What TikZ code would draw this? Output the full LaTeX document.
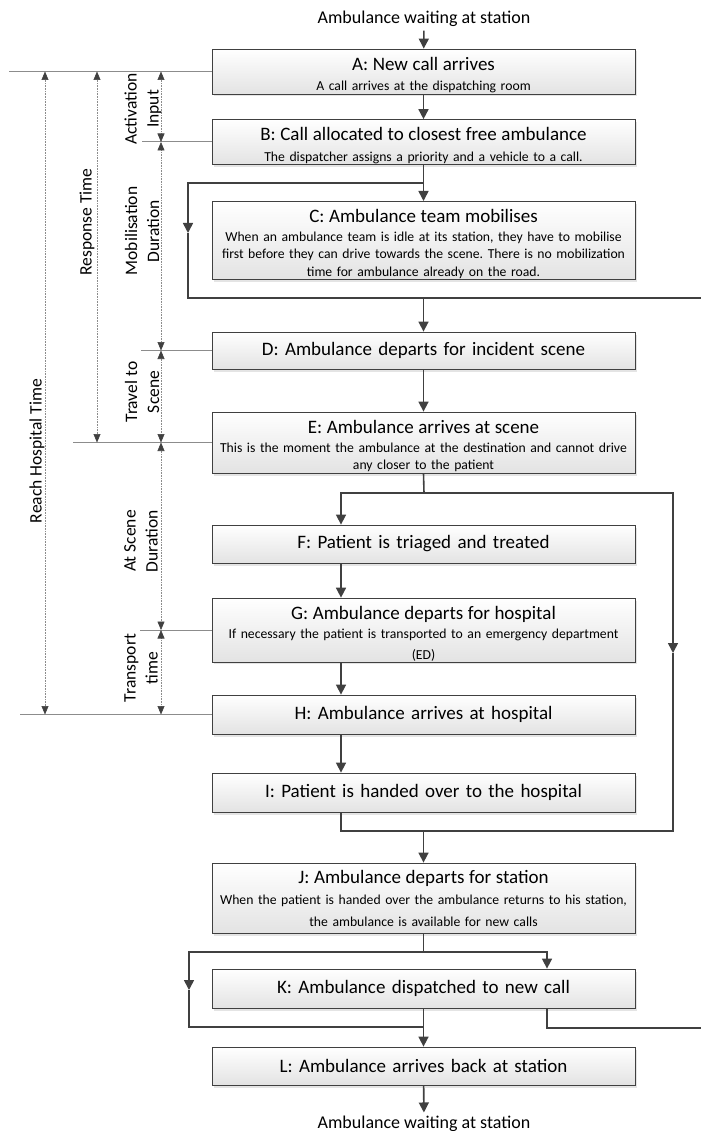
\documentclass[tikz,border=0pt]{standalone}
\usepackage{fontspec}
\setmainfont{Carlito}
\usepackage{tikz}
\usetikzlibrary{arrows.meta,shadows}

\definecolor{darkline}{HTML}{404040}
\definecolor{dimgrey}{HTML}{8C8C8C}
\newcommand{\boxtitle}{\fontsize{19}{22}\selectfont}
\newcommand{\boxdesc}{\fontsize{13.7}{20.5}\selectfont}
\newcommand{\waitfont}{\fontsize{18}{21}\selectfont}
\newcommand{\labelfont}{\fontsize{17.5}{22}\selectfont}
\newcommand{\titlegap}{\rule{0pt}{20pt}}
\frenchspacing

\begin{document}
\begin{tikzpicture}[x=1pt, y=-1pt, line width=.8pt,
    stepbox/.style={draw=darkline, line width=.8pt, top color=white, bottom color=gray!22,
        minimum width=423pt, text width=421pt, align=center, inner xsep=1pt, inner ysep=1pt,
        font=\boxdesc,
        drop shadow={shadow xshift=2pt, shadow yshift=-2.5pt, fill=gray!35, opacity=.6}},
    flow/.style={draw=darkline, line width=1.6pt, -{Triangle[width=10pt,length=10pt]}},
    plainline/.style={draw=darkline, line width=1.6pt},
    dimline/.style={draw=dimgrey, line width=.6pt, densely dotted,
        {Triangle[width=7pt,length=8.5pt,color=darkline,fill=darkline]}-{Triangle[width=7pt,length=8.5pt,color=darkline,fill=darkline]}},
    extline/.style={draw=dimgrey, line width=1pt},
    dimlabel/.style={rotate=90, align=center, font=\labelfont, inner sep=0pt}]
    \useasboundingbox (0,0) rectangle (701,1131);

    % start and end of the cycle
    \node[font=\waitfont] (start) at (424,19) {Ambulance waiting at station};
    \node[font=\waitfont] (finish) at (424,1124) {Ambulance waiting at station};

    % the steps
    \node[stepbox, minimum height=45pt] (A) at (423.5,71.5) {{\titlegap\boxtitle A: New call arrives}\\[-1pt]{A call arrives at the dispatching room}};
    \node[stepbox, minimum height=44pt] (B) at (423.5,142) {{\titlegap\boxtitle B: Call allocated to closest free ambulance}\\{The dispatcher assigns a priority and a vehicle to a call.}};
    \node[stepbox, minimum height=75pt, font={\fontsize{13.7}{17.5}\selectfont}] (C) at (423.5,240.5) {{\titlegap\boxtitle C: Ambulance team mobilises}\\[1.5pt]When an ambulance team is idle at its station, they have to mobilise\\first before they can drive towards the scene. There is no mobilization\\time for ambulance already on the road.};
    \node[stepbox, minimum height=37pt, font=\boxtitle] (D) at (423.5,350.5) {D: Ambulance departs for incident scene};
    \node[stepbox, minimum height=61pt, font={\fontsize{13.7}{16.5}\selectfont}] (E) at (423.5,442.5) {{\titlegap\boxtitle E: Ambulance arrives at scene}\\[3pt]This is the moment the ambulance at the destination and cannot drive\\any closer to the patient};
    \node[stepbox, minimum height=58pt] (G) at (423.5,630) {{\titlegap\boxtitle G: Ambulance departs for hospital}\\[-1pt]If necessary the patient is transported to an emergency department\\(ED)};
    \node[stepbox, minimum height=38pt, font=\boxtitle] (F) at (423.5,544) {F: Patient is triaged and treated};
    \node[stepbox, minimum height=39pt, font=\boxtitle] (H) at (423.5,714.5) {H: Ambulance arrives at hospital};
    \node[stepbox, minimum height=39pt, font=\boxtitle] (I) at (423.5,792.5) {I: Patient is handed over to the hospital};
    \node[stepbox, minimum height=70pt, font={\fontsize{13.7}{21.5}\selectfont}] (J) at (423.5,898) {{\boxtitle J: Ambulance departs for station}\\When the patient is handed over the ambulance returns to his station,\\the ambulance is available for new calls};
    \node[stepbox, minimum height=39pt, font=\boxtitle] (K) at (423.5,988.5) {K: Ambulance dispatched to new call};
    \node[stepbox, minimum height=38pt, font=\boxtitle] (L) at (423.5,1066) {L: Ambulance arrives back at station};

    % helper points of the loops
    \coordinate (sx) at (341,0);
    \coordinate (kx) at (547,0);
    \coordinate (cl) at (188,183);
    \coordinate (cm) at (188,233);
    \coordinate (cb) at (188,298);
    \coordinate (cr) at (701,298);
    \coordinate (ej) at (424,493);
    \coordinate (er) at (673,493);
    \coordinate (em) at (673,653);
    \coordinate (ir) at (673,831);
    \coordinate (il) at (341,831);
    \coordinate (jl) at (189,952);
    \coordinate (jm) at (189,990);
    \coordinate (jb) at (189,1027);
    \coordinate (kr) at (701,1028);

    % main flow
    \draw[flow] (start) -- (A);
    \draw[flow] (A) -- (B);
    \draw[flow] (B.south) -- (C.north);
    \draw[flow] (B.south |- cl) -- (cl) -- (cm);
    \draw[plainline] (cm) -- (cb) -- (cr);
    \draw[flow] (cb -| D.north) -- (D.north);
    \draw[flow] (D) -- (E);
    \draw[plainline] (E.south) -- (ej);
    \draw[flow] (ej) -| (F.north -| sx);
    \draw[flow] (ej) -- (er) -- (em);
    \draw[plainline] (em) -- (ir) -- (il) -- (I.south -| il);
    \draw[flow] (F.south -| sx) -- (G.north -| sx);
    \draw[flow] (G.south -| sx) -- (H.north -| sx);
    \draw[flow] (H.south -| sx) -- (I.north -| sx);
    \draw[flow] (ir -| J.north) -- (J.north);
    \draw[plainline] (J.south) -- (J.south |- jl);
    \draw[flow] (J.south |- jl) -- (jl) -- (jm);
    \draw[flow] (J.south |- jl) -| (K.north -| kx);
    \draw[plainline] (jm) -- (jb) -- (jb -| K.south);
    \draw[flow] (K) -- (L);
    \draw[plainline] (K.south -| kx) |- (kr);
    \draw[flow] (L) -- (finish);

    % time intervals on the left
    \coordinate (xr) at (45,0);
    \coordinate (xs) at (97,0);
    \coordinate (xm) at (161,0);
    \draw[extline] (A.west) -- ++(-203,0);
    \draw[extline] (B.west) -- ++(-70,0);
    \draw[extline] (D.west) -- ++(-71,0);
    \draw[extline] (E.west) -- ++(-139,0);
    \draw[extline] (G.west) -- ++(-72,0);
    \draw[extline] (H.west) -- ++(-192,0);
    \draw[dimline] (A.west -| xr) -- (H.west -| xr);
    \draw[dimline] (A.west -| xs) -- (E.west -| xs);
    \draw[dimline] (A.west -| xm) -- (B.west -| xm);
    \draw[dimline] (B.west -| xm) -- (D.west -| xm);
    \draw[dimline] (D.west -| xm) -- (E.west -| xm);
    \draw[dimline] (E.west -| xm) -- (G.west -| xm);
    \draw[dimline] (G.west -| xm) -- (H.west -| xm);
    \node[dimlabel] (reach) at (37,451) {Reach Hospital Time};
    \node[dimlabel] (resp) at (87,222) {Response Time};
    \node[dimlabel] (act) at (143,109) {Activation\\Input};
    \node[dimlabel] (mob) at (142,231) {Mobilisation\\Duration};
    \node[dimlabel] (trav) at (142,392) {Travel to\\Scene};
    \node[dimlabel] (scene) at (141,541) {At Scene\\Duration};
    \node[dimlabel] (trans) at (141,668) {Transport\\time};
\end{tikzpicture}
\end{document}
